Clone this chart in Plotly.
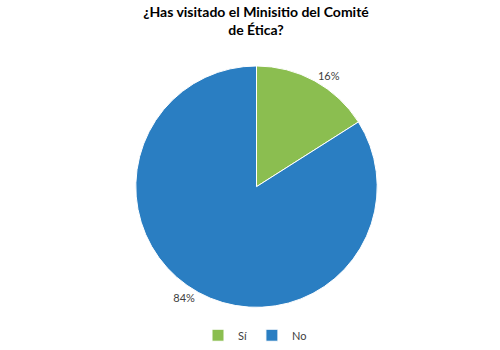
import plotly.graph_objects as go

labels = ["Sí", "No"]
values = [16, 84]
colors = ["#8BBE50", "#2A7EC2"]

fig = go.Figure(go.Pie(
    labels=labels, values=values, sort=False, direction="clockwise", rotation=0,
    marker=dict(colors=colors, line=dict(color="white", width=1)),
    textinfo="percent", textposition="outside",
    textfont=dict(family="Lato", size=11, color="#404040"),
    texttemplate="%{percent:.0%}",
    domain=dict(x=[0.203, 0.823], y=[0.096, 0.806]),
    hoverinfo="skip", showlegend=True,
))
fig.update_layout(
    width=500, height=350, margin=dict(l=0, r=0, t=0, b=0),
    paper_bgcolor="white",
    title=dict(text="<b>¿Has visitado el Minisitio del Comité<br>de Ética?</b>",
               x=0.512, xanchor="center", yref="container", y=0.952, yanchor="middle",
               font=dict(family="Lato", size=14, color="#000000")),
    legend=dict(orientation="h", x=0.51, xanchor="center", y=0.014, yanchor="middle",
                font=dict(family="Lato", size=11, color="#404040"), itemwidth=30),
)
fig.write_html("out.html")
